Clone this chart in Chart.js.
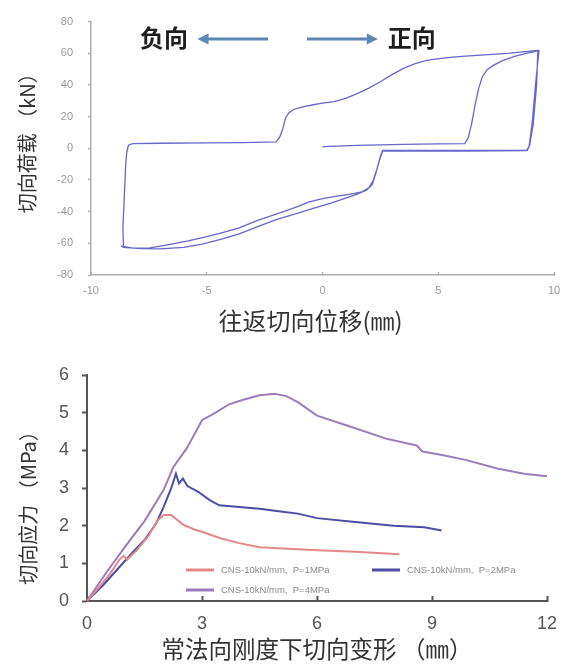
<!DOCTYPE html>
<html><head><meta charset="utf-8">
<script src="https://cdn.jsdelivr.net/npm/chart.js@4.4.0/dist/chart.umd.min.js"></script>
<style>
html,body{margin:0;padding:0;background:#fff;}
body{width:578px;height:664px;overflow:hidden;position:relative;}
#c1{position:absolute;left:0;top:0;}
#c2{position:absolute;left:0;top:340px;}
</style></head>
<body>
<canvas id="c1" width="578" height="340"></canvas>
<canvas id="c2" width="578" height="324"></canvas>
<script>
// ---------- top chart data (hysteresis loop) ----------
const loopX = [0,1.5,3.5,5.0,6.15,6.3,6.45,6.6,6.75,6.9,7.1,7.4,7.8,8.3,8.8,9.3,
  9.25,9.1,8.95,8.85,6.0,3.0,2.6,2.5,2.35,2.2,2.0,1.7,1.2,0.5,0,-0.6,-1.2,-2.0,-2.8,-3.6,-4.4,-5.0,-5.8,-6.7,-7.5,-8.2,-8.6,
  -8.62,-8.56,-8.5,-8.45,-8.38,-8.2,-7.0,-5.0,-3.5,-2.0,-1.85,-1.72,-1.6,-1.45,-1.25,-0.9,-0.4,0,0.5,1.0,1.5,2.0,2.5,3.0,3.5,4.0,4.5,5.2,6.0,7.0,8.0,9.3,
  9.35,9.2,9.05,8.92,8.8,6.0,2.6,2.45,2.3,2.15,1.9,1.5,1.0,0.4,-0.4,-1.2,-2.0,-2.8,-3.6,-4.4,-5.2,-6.0,-7.0,-7.8,-8.6,-8.7];
const loopY = [1.0,1.8,2.5,2.8,3.0,7,16,28,38,45,49.5,52.5,55.5,58,60,61.5,
  40,15,2,-1.3,-1.4,-1.4,-1.4,-5,-13,-20,-25,-27.5,-29,-30.5,-31.8,-34,-37.5,-41.5,-45.5,-50.3,-53.5,-55.8,-58.5,-61,-63,-63,-62,
  -50,-30,-10,-2,2,3.0,3.2,3.4,3.6,4.0,7,12,19,22.5,24.5,26,27.5,28.5,29.5,31.5,34.5,38,42,46.5,50.5,53.5,55.5,57,58,59,60,61.8,
  61.8,40,15,1,-1.6,-1.7,-1.7,-8,-16,-23,-26.5,-29,-31.5,-34.5,-38,-41.5,-45,-49.5,-54,-57.5,-60.5,-62.5,-63.5,-63.3,-62.5,-61.5];
const topXTicks = [-10,-5,0,5,10];
const topYTicks = [-80,-60,-40,-20,0,20,40,60,80];
const directionLabels = ['负向','正向'];

// ---------- bottom chart data ----------
const seriesNames = ['CNS-10kN/mm,  P=1MPa','CNS-10kN/mm,  P=2MPa','CNS-10kN/mm,  P=4MPa'];
const p1X = [0,0.3,0.6,0.85,0.95,1.05,1.3,1.6,1.85,2.0,2.2,2.3,2.5,2.8,3.0,3.5,4.0,4.5,5.0,6.0,7.0,8.15];
const p1Y = [0,0.35,0.72,1.1,1.2,1.1,1.35,1.72,2.15,2.28,2.28,2.2,2.03,1.9,1.84,1.66,1.53,1.43,1.4,1.35,1.31,1.24];
const p2X = [0,0.4,0.8,1.2,1.5,1.8,2.0,2.2,2.32,2.4,2.5,2.62,2.9,3.2,3.45,3.9,4.5,5.0,5.5,6.0,7.0,8.0,8.8,9.25];
const p2Y = [0,0.4,0.85,1.3,1.62,2.05,2.5,3.0,3.38,3.12,3.25,3.05,2.9,2.68,2.54,2.5,2.45,2.38,2.32,2.2,2.1,2.0,1.96,1.87];
const p4X = [0,0.5,1.0,1.5,2.0,2.25,2.6,3.0,3.3,3.7,4.1,4.5,4.9,5.2,5.5,6.0,6.9,7.8,8.6,8.75,9.3,9.9,10.7,11.4,12];
const p4Y = [0,0.75,1.45,2.12,2.95,3.55,4.05,4.8,4.97,5.22,5.35,5.46,5.5,5.44,5.28,4.92,4.62,4.31,4.13,3.97,3.87,3.74,3.52,3.38,3.31];
const botXTicks = [0,3,6,9,12];
const botYTicks = [0,1,2,3,4,5,6];

const pts = (xs, ys) => xs.map((x, i) => ({x, y: ys[i]}));
const fixTicks = arr => (scale => { scale.ticks = arr.map(v => ({value: v})); });

const CJK = '"Noto Sans CJK SC", "Noto Sans", sans-serif';
const LAT = '"Liberation Sans", Arial, sans-serif';

// annotation (direction arrows) in data coordinates
const arrowCfg = {level: 69, items: [
  {label: 0, textAt: -6.85, from: -2.35, to: -5.4},
  {label: 1, textAt: 3.85, from: -0.67, to: 2.39}
]};

const arrowPlugin = {
  id: 'dirArrows',
  afterDatasetsDraw(chart) {
    const ctx = chart.ctx, xs = chart.scales.x, ys = chart.scales.y;
    const y = ys.getPixelForValue(arrowCfg.level);
    ctx.save();
    arrowCfg.items.forEach(it => {
      const x0 = xs.getPixelForValue(it.from), x1 = xs.getPixelForValue(it.to);
      const dir = Math.sign(x1 - x0);
      ctx.strokeStyle = '#5f86b0'; ctx.fillStyle = '#5f86b0'; ctx.lineWidth = 3;
      ctx.beginPath(); ctx.moveTo(x0, y); ctx.lineTo(x1 - dir * 8, y); ctx.stroke();
      ctx.beginPath(); ctx.moveTo(x1, y); ctx.lineTo(x1 - dir * 11, y - 5.5); ctx.lineTo(x1 - dir * 11, y + 5.5); ctx.closePath(); ctx.fill();
      ctx.fillStyle = '#1e1e1e'; ctx.font = 'bold 24px ' + CJK; ctx.textAlign = 'center'; ctx.textBaseline = 'middle';
      ctx.fillText(directionLabels[it.label], xs.getPixelForValue(it.textAt), y - 1);
    });
    ctx.restore();
  }
};

const legendPlugin = {
  id: 'inLegend',
  afterDatasetsDraw(chart) {
    const ctx = chart.ctx, a = chart.chartArea;
    const slots = [[a.left + 99, a.top + 195], [a.left + 285, a.top + 195], [a.left + 99, a.top + 215]];
    ctx.save();
    chart.data.datasets.forEach((ds, i) => {
      const [x, y] = slots[i];
      ctx.strokeStyle = ds.borderColor; ctx.lineWidth = 3;
      ctx.beginPath(); ctx.moveTo(x, y); ctx.lineTo(x + 28, y); ctx.stroke();
      ctx.fillStyle = '#8a8a8a'; ctx.font = '9.5px ' + LAT; ctx.textBaseline = 'middle'; ctx.textAlign = 'left';
      ctx.fillText(ds.label, x + 35, y);
    });
    ctx.restore();
  }
};

Chart.defaults.animation = false;

new Chart(document.getElementById('c1'), {
  type: 'scatter',
  data: {datasets: [{
    data: pts(loopX, loopY), showLine: true, borderColor: '#6666cc', borderWidth: 1.3,
    pointRadius: 0, tension: 0, fill: false
  }]},
  options: {
    responsive: false, devicePixelRatio: 1,
    layout: {padding: {top: 13, right: 24, left: 0, bottom: 0}},
    plugins: {legend: {display: false}, tooltip: {enabled: false}},
    scales: {
      x: {type: 'linear', min: -10, max: 10, afterBuildTicks: fixTicks(topXTicks),
        afterFit: s => { s.height = 65; },
        grid: {drawOnChartArea: false, tickLength: -3, color: '#b0b0b0', tickWidth: 1.5},
        border: {color: '#b0b0b0', width: 1.5},
        ticks: {color: '#9a9a9a', font: {family: LAT, size: 11}, padding: 12, maxRotation: 0},
        title: {display: true, text: '往返切向位移(㎜)\u3000', color: '#333', font: {family: CJK, size: 24}, padding: {top: 0, bottom: 5}}
      },
      y: {type: 'linear', min: -80, max: 80, afterBuildTicks: fixTicks(topYTicks),
        afterFit: s => { s.width = 91; },
        grid: {drawOnChartArea: false, tickLength: 3, color: '#b0b0b0', tickWidth: 1.5},
        border: {color: '#b0b0b0', width: 1.5},
        ticks: {color: '#9a9a9a', font: {family: LAT, size: 11}, padding: 15},
        title: {display: true, text: '\u3000切向荷载 （kN）', color: '#333', font: {family: CJK, size: 20}, padding: {top: 15, bottom: 0}}
      }
    }
  },
  plugins: [arrowPlugin]
});

new Chart(document.getElementById('c2'), {
  type: 'scatter',
  data: {datasets: [
    {label: seriesNames[0], data: pts(p1X, p1Y), showLine: true, borderColor: '#e48888', borderWidth: 2, pointRadius: 0, tension: 0},
    {label: seriesNames[1], data: pts(p2X, p2Y), showLine: true, borderColor: '#4c4ca6', borderWidth: 2, pointRadius: 0, tension: 0},
    {label: seriesNames[2], data: pts(p4X, p4Y), showLine: true, borderColor: '#9c7cba', borderWidth: 2, pointRadius: 0, tension: 0}
  ]},
  options: {
    responsive: false, devicePixelRatio: 1,
    layout: {padding: {top: 35, right: 31, left: 0, bottom: 0}},
    plugins: {legend: {display: false}, tooltip: {enabled: false}},
    scales: {
      x: {type: 'linear', min: 0, max: 12, afterBuildTicks: fixTicks(botXTicks),
        afterFit: s => { s.height = 63; },
        grid: {drawOnChartArea: false, tickLength: -5, color: '#555', tickWidth: 2},
        border: {color: '#555', width: 2},
        ticks: {color: '#555', font: {family: LAT, size: 18}, padding: 17, maxRotation: 0},
        title: {display: true, text: '常法向刚度下切向变形 （㎜）', color: '#333', font: {family: CJK, size: 23.5}, padding: {top: 0, bottom: 1}}
      },
      y: {type: 'linear', min: 0, max: 6, afterBuildTicks: fixTicks(botYTicks),
        afterFit: s => { s.width = 87; },
        grid: {drawOnChartArea: false, tickLength: 5, color: '#555', tickWidth: 2},
        border: {color: '#555', width: 2},
        ticks: {color: '#555', font: {family: LAT, size: 18}, padding: 13},
        title: {display: true, text: '切向应力 （MPa）\u3000\u3000', color: '#333', font: {family: CJK, size: 20}, padding: {top: 16, bottom: 0}}
      }
    }
  },
  plugins: [legendPlugin]
});
</script>
</body></html>
